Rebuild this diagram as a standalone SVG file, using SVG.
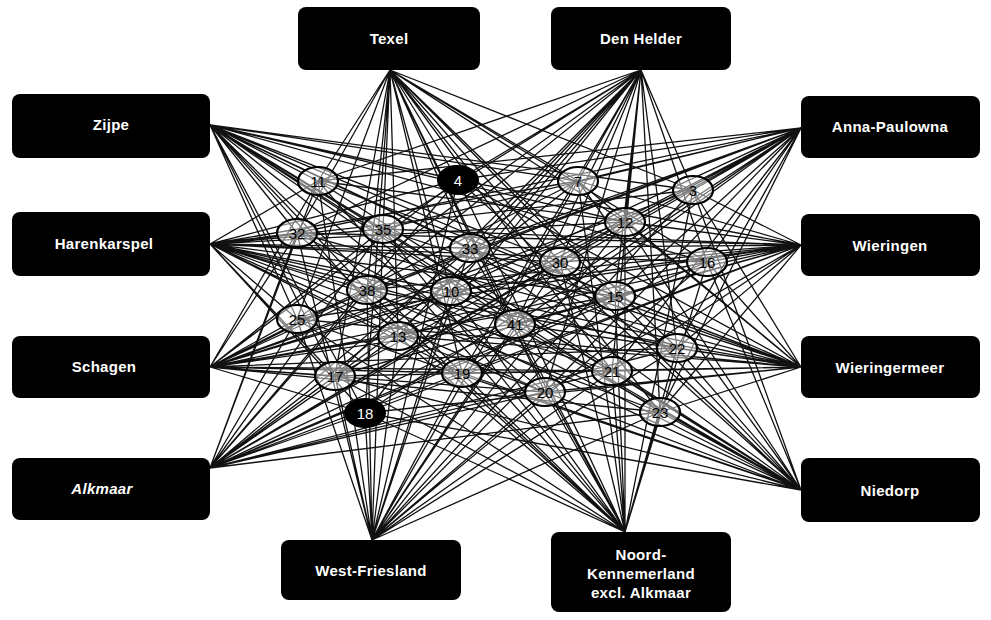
<svg xmlns="http://www.w3.org/2000/svg" width="991" height="620" viewBox="0 0 991 620">
<style>
.box{fill:#000;}
.bt{fill:#fff;font-family:"Liberation Sans",Arial,sans-serif;font-size:15px;font-weight:bold;text-anchor:middle;dominant-baseline:central;letter-spacing:0.3px;}
.ln{fill:none;stroke:#111;stroke-width:1.3;}
.c{fill:#fff;fill-opacity:0.45;stroke:#000;stroke-width:2.2;}
.cd{fill:#000;stroke:#000;stroke-width:2;}
.ct{fill:#000;font-family:"Liberation Sans",Arial,sans-serif;font-size:15px;text-anchor:middle;dominant-baseline:central;}
.cdt{fill:#fff;font-family:"Liberation Sans",Arial,sans-serif;font-size:15px;text-anchor:middle;dominant-baseline:central;}
</style>
<rect width="991" height="620" fill="#fff"/>
<g id="connectors">
<path class="ln" d="M390 70L318 181M390 70L458 180M390 70L578 181M390 70L693 190M390 70L297 233M390 70L383 229M390 70L470 248M390 70L625 222M390 70L560 262M390 70L707 262M390 70L367 290M390 70L451 291M390 70L615 296M390 70L297 319M390 70L398 336M390 70L515 324M390 70L677 348M390 70L335 376M390 70L462 373M390 70L545 392M390 70L612 371M390 70L365 413M390 70L660 412"/>
<path class="ln" d="M641 70L318 181M641 70L458 180M641 70L578 181M641 70L693 190M641 70L297 233M641 70L383 229M641 70L470 248M641 70L625 222M641 70L560 262M641 70L707 262M641 70L367 290M641 70L451 291M641 70L615 296M641 70L297 319M641 70L398 336M641 70L515 324M641 70L677 348M641 70L335 376M641 70L462 373M641 70L545 392M641 70L612 371M641 70L365 413M641 70L660 412"/>
<path class="ln" d="M210 125L318 181M210 125L458 180M210 125L578 181M210 125L693 190M210 125L297 233M210 125L383 229M210 125L470 248M210 125L625 222M210 125L560 262M210 125L707 262M210 125L367 290M210 125L451 291M210 125L615 296M210 125L297 319M210 125L398 336M210 125L515 324M210 125L677 348M210 125L335 376M210 125L462 373M210 125L545 392M210 125L612 371M210 125L365 413M210 125L660 412"/>
<path class="ln" d="M801 128L318 181M801 128L458 180M801 128L578 181M801 128L693 190M801 128L297 233M801 128L383 229M801 128L470 248M801 128L625 222M801 128L560 262M801 128L707 262M801 128L367 290M801 128L451 291M801 128L615 296M801 128L297 319M801 128L398 336M801 128L515 324M801 128L677 348M801 128L335 376M801 128L462 373M801 128L545 392M801 128L612 371M801 128L365 413M801 128L660 412"/>
<path class="ln" d="M210 244L318 181M210 244L458 180M210 244L578 181M210 244L693 190M210 244L297 233M210 244L383 229M210 244L470 248M210 244L625 222M210 244L560 262M210 244L707 262M210 244L367 290M210 244L451 291M210 244L615 296M210 244L297 319M210 244L398 336M210 244L515 324M210 244L677 348M210 244L335 376M210 244L462 373M210 244L545 392M210 244L612 371M210 244L365 413M210 244L660 412"/>
<path class="ln" d="M801 245L318 181M801 245L458 180M801 245L578 181M801 245L693 190M801 245L297 233M801 245L383 229M801 245L470 248M801 245L625 222M801 245L560 262M801 245L707 262M801 245L367 290M801 245L451 291M801 245L615 296M801 245L297 319M801 245L398 336M801 245L515 324M801 245L677 348M801 245L335 376M801 245L462 373M801 245L545 392M801 245L612 371M801 245L365 413M801 245L660 412"/>
<path class="ln" d="M210 367L318 181M210 367L458 180M210 367L578 181M210 367L693 190M210 367L297 233M210 367L383 229M210 367L470 248M210 367L625 222M210 367L560 262M210 367L707 262M210 367L367 290M210 367L451 291M210 367L615 296M210 367L297 319M210 367L398 336M210 367L515 324M210 367L677 348M210 367L335 376M210 367L462 373M210 367L545 392M210 367L612 371M210 367L365 413M210 367L660 412"/>
<path class="ln" d="M801 367L318 181M801 367L458 180M801 367L578 181M801 367L693 190M801 367L297 233M801 367L383 229M801 367L470 248M801 367L625 222M801 367L560 262M801 367L707 262M801 367L367 290M801 367L451 291M801 367L615 296M801 367L297 319M801 367L398 336M801 367L515 324M801 367L677 348M801 367L335 376M801 367L462 373M801 367L545 392M801 367L612 371M801 367L365 413M801 367L660 412"/>
<path class="ln" d="M210 468L318 181M210 468L458 180M210 468L578 181M210 468L693 190M210 468L297 233M210 468L383 229M210 468L470 248M210 468L625 222M210 468L560 262M210 468L707 262M210 468L367 290M210 468L451 291M210 468L615 296M210 468L297 319M210 468L398 336M210 468L515 324M210 468L677 348M210 468L335 376M210 468L462 373M210 468L545 392M210 468L612 371M210 468L365 413M210 468L660 412"/>
<path class="ln" d="M801 490L318 181M801 490L458 180M801 490L578 181M801 490L693 190M801 490L297 233M801 490L383 229M801 490L470 248M801 490L625 222M801 490L560 262M801 490L707 262M801 490L367 290M801 490L451 291M801 490L615 296M801 490L297 319M801 490L398 336M801 490L515 324M801 490L677 348M801 490L335 376M801 490L462 373M801 490L545 392M801 490L612 371M801 490L365 413M801 490L660 412"/>
<path class="ln" d="M372 540L318 181M372 540L458 180M372 540L578 181M372 540L693 190M372 540L297 233M372 540L383 229M372 540L470 248M372 540L625 222M372 540L560 262M372 540L707 262M372 540L367 290M372 540L451 291M372 540L615 296M372 540L297 319M372 540L398 336M372 540L515 324M372 540L677 348M372 540L335 376M372 540L462 373M372 540L545 392M372 540L612 371M372 540L365 413M372 540L660 412"/>
<path class="ln" d="M625 532L318 181M625 532L458 180M625 532L578 181M625 532L693 190M625 532L297 233M625 532L383 229M625 532L470 248M625 532L625 222M625 532L560 262M625 532L707 262M625 532L367 290M625 532L451 291M625 532L615 296M625 532L297 319M625 532L398 336M625 532L515 324M625 532L677 348M625 532L335 376M625 532L462 373M625 532L545 392M625 532L612 371M625 532L365 413M625 532L660 412"/>
</g>
<g id="texel"><rect class="box" x="298" y="7" width="182" height="63" rx="8"/><text class="bt" x="389" y="38">Texel</text></g>
<g id="den-helder"><rect class="box" x="551" y="7" width="180" height="63" rx="8"/><text class="bt" x="641" y="38">Den Helder</text></g>
<g id="zijpe"><rect class="box" x="12" y="94" width="198" height="64" rx="8"/><text class="bt" x="111" y="124">Zijpe</text></g>
<g id="anna-paulowna"><rect class="box" x="801" y="96" width="179" height="62" rx="8"/><text class="bt" x="890" y="126">Anna-Paulowna</text></g>
<g id="harenkarspel"><rect class="box" x="12" y="212" width="198" height="64" rx="8"/><text class="bt" x="104" y="243">Harenkarspel</text></g>
<g id="wieringen"><rect class="box" x="801" y="214" width="179" height="62" rx="8"/><text class="bt" x="890" y="245">Wieringen</text></g>
<g id="schagen"><rect class="box" x="12" y="336" width="198" height="62" rx="8"/><text class="bt" x="104" y="366">Schagen</text></g>
<g id="wieringermeer"><rect class="box" x="801" y="336" width="179" height="62" rx="8"/><text class="bt" x="890" y="367">Wieringermeer</text></g>
<g id="alkmaar"><rect class="box" x="12" y="458" width="198" height="62" rx="8"/><text class="bt" x="102" y="488" font-style="italic" font-weight="normal">Alkmaar</text></g>
<g id="niedorp"><rect class="box" x="801" y="458" width="179" height="64" rx="8"/><text class="bt" x="890" y="490">Niedorp</text></g>
<g id="west-friesland"><rect class="box" x="281" y="540" width="180" height="60" rx="8"/><text class="bt" x="371" y="570">West-Friesland</text></g>
<g id="noord-kennemerland"><rect class="box" x="551" y="532" width="180" height="80" rx="8"/><text class="bt" x="641" y="554">Noord-</text><text class="bt" x="641" y="573">Kennemerland</text><text class="bt" x="641" y="592">excl. Alkmaar</text></g>
<g id="n11"><ellipse class="c" cx="318" cy="181" rx="20" ry="14"/><text class="ct" x="318" y="181">11</text></g>
<g id="n4"><ellipse class="cd" cx="458" cy="180" rx="20" ry="14"/><text class="cdt" x="458" y="180">4</text></g>
<g id="n7"><ellipse class="c" cx="578" cy="181" rx="20" ry="14"/><text class="ct" x="578" y="181">7</text></g>
<g id="n3"><ellipse class="c" cx="693" cy="190" rx="20" ry="14"/><text class="ct" x="693" y="190">3</text></g>
<g id="n32"><ellipse class="c" cx="297" cy="233" rx="20" ry="14"/><text class="ct" x="297" y="233">32</text></g>
<g id="n35"><ellipse class="c" cx="383" cy="229" rx="20" ry="14"/><text class="ct" x="383" y="229">35</text></g>
<g id="n33"><ellipse class="c" cx="470" cy="248" rx="20" ry="14"/><text class="ct" x="470" y="248">33</text></g>
<g id="n12"><ellipse class="c" cx="625" cy="222" rx="20" ry="14"/><text class="ct" x="625" y="222">12</text></g>
<g id="n30"><ellipse class="c" cx="560" cy="262" rx="20" ry="14"/><text class="ct" x="560" y="262">30</text></g>
<g id="n16"><ellipse class="c" cx="707" cy="262" rx="20" ry="14"/><text class="ct" x="707" y="262">16</text></g>
<g id="n38"><ellipse class="c" cx="367" cy="290" rx="20" ry="14"/><text class="ct" x="367" y="290">38</text></g>
<g id="n10"><ellipse class="c" cx="451" cy="291" rx="20" ry="14"/><text class="ct" x="451" y="291">10</text></g>
<g id="n15"><ellipse class="c" cx="615" cy="296" rx="20" ry="14"/><text class="ct" x="615" y="296">15</text></g>
<g id="n25"><ellipse class="c" cx="297" cy="319" rx="20" ry="14"/><text class="ct" x="297" y="319">25</text></g>
<g id="n13"><ellipse class="c" cx="398" cy="336" rx="20" ry="14"/><text class="ct" x="398" y="336">13</text></g>
<g id="n41"><ellipse class="c" cx="515" cy="324" rx="20" ry="14"/><text class="ct" x="515" y="324">41</text></g>
<g id="n22"><ellipse class="c" cx="677" cy="348" rx="20" ry="14"/><text class="ct" x="677" y="348">22</text></g>
<g id="n17"><ellipse class="c" cx="335" cy="376" rx="20" ry="14"/><text class="ct" x="335" y="376">17</text></g>
<g id="n19"><ellipse class="c" cx="462" cy="373" rx="20" ry="14"/><text class="ct" x="462" y="373">19</text></g>
<g id="n20"><ellipse class="c" cx="545" cy="392" rx="20" ry="14"/><text class="ct" x="545" y="392">20</text></g>
<g id="n21"><ellipse class="c" cx="612" cy="371" rx="20" ry="14"/><text class="ct" x="612" y="371">21</text></g>
<g id="n18"><ellipse class="cd" cx="365" cy="413" rx="20" ry="14"/><text class="cdt" x="365" y="413">18</text></g>
<g id="n23"><ellipse class="c" cx="660" cy="412" rx="20" ry="14"/><text class="ct" x="660" y="412">23</text></g>
</svg>
